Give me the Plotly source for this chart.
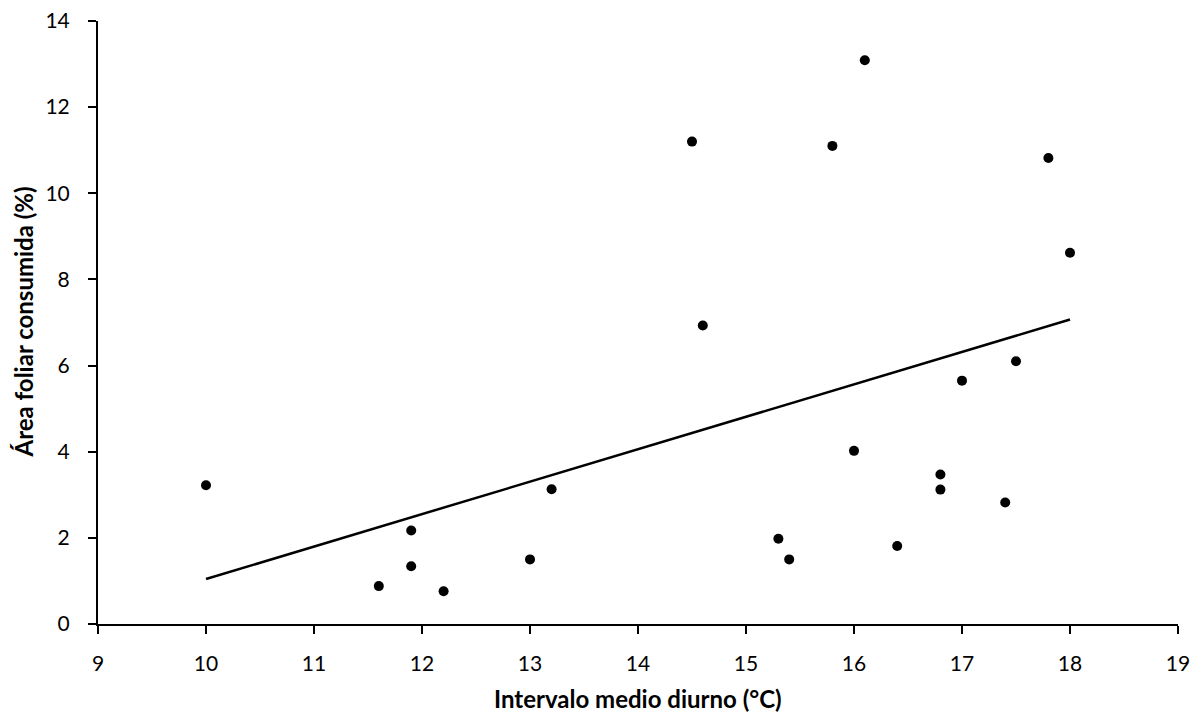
import numpy as np
import plotly.graph_objects as go

x_vals = [10.0, 11.6, 11.9, 11.9, 12.2, 13.0, 13.2, 14.5, 14.6, 15.3, 15.4,
          15.8, 16.0, 16.1, 16.4, 16.8, 16.8, 17.0, 17.4, 17.5, 17.8, 18.0]
y_vals = [3.22, 0.88, 2.17, 1.34, 0.76, 1.50, 3.13, 11.20, 6.93, 1.98, 1.50,
          11.10, 4.02, 13.09, 1.81, 3.47, 3.12, 5.65, 2.82, 6.10, 10.82, 8.62]

x_title = "Intervalo medio diurno (°C)"
y_title = "Área foliar consumida (%)"

slope, intercept = np.polyfit(x_vals, y_vals, 1)
tx = [min(x_vals), max(x_vals)]
ty = [slope * v + intercept for v in tx]

fig = go.Figure()
fig.add_trace(go.Scatter(x=x_vals, y=y_vals, mode="markers",
                         marker=dict(color="black", size=10), showlegend=False))
fig.add_trace(go.Scatter(x=tx, y=ty, mode="lines",
                         line=dict(color="black", width=2.5), showlegend=False))

font = "Lato, 'Open Sans', sans-serif"
fig.update_layout(
    width=1202, height=713,
    margin=dict(l=90, r=32, t=13, b=97),
    plot_bgcolor="white", paper_bgcolor="white",
    font=dict(family=font, color="black", size=21),
)
fig.update_xaxes(range=[9, 19], dtick=1, showgrid=False, zeroline=False,
                 showline=True, linecolor="black", linewidth=2,
                 ticks="outside", ticklen=8, tickwidth=2, tickcolor="black",
                 tickfont=dict(size=21), automargin=False,
                 ticklabeloverflow="allow", ticklabelstandoff=12)
fig.update_yaxes(range=[0, 14], dtick=2, showgrid=False, zeroline=False,
                 showline=True, linecolor="black", linewidth=2,
                 ticks="outside", ticklen=8, tickwidth=2, tickcolor="black",
                 tickfont=dict(size=21), automargin=False,
                 ticklabeloverflow="allow", ticklabelstandoff=14)

fig.add_annotation(text="<b>" + x_title + "</b>", xref="paper", yref="paper",
                   x=0.5, y=0, yshift=-74, xanchor="center", yanchor="middle",
                   showarrow=False, font=dict(size=24))
fig.add_annotation(text="<b>" + y_title + "</b>", xref="paper", yref="paper",
                   x=0, y=0.5, xshift=-75, xanchor="center", yanchor="middle",
                   textangle=-90, showarrow=False, font=dict(size=24))

fig.write_html("out.html")
